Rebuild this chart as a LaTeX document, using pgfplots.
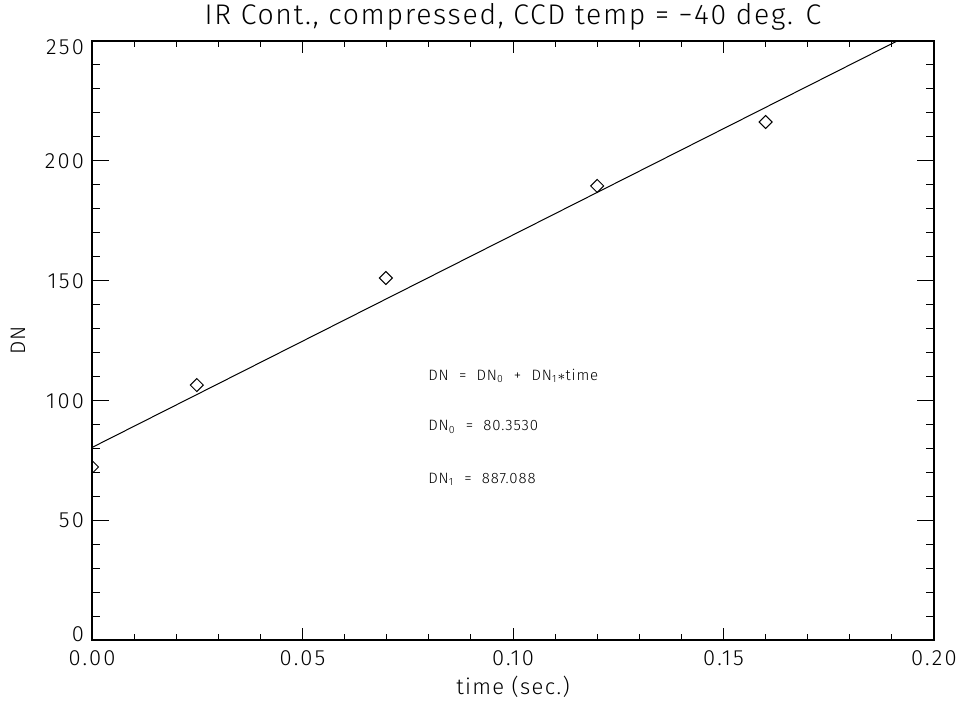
\documentclass[border=0pt]{standalone}
\usepackage{fontspec}
\setmainfont{Fira Sans Light}
\usepackage{pgfplots}
\pgfplotsset{compat=1.18}
\begin{document}
\begin{tikzpicture}
\useasboundingbox (-46pt,-33.5pt) rectangle (435pt,320pt);
\begin{axis}[
  at={(0,0)}, anchor=south west,
  scale only axis,
  width=421pt, height=299.5pt,
  xmin=0, xmax=0.2, ymin=0, ymax=250,
  xtick={0,0.05,0.1,0.15,0.2},
  ytick={0,50,100,150,200,250},
  yticklabels={\raisebox{-0.8pt}[0pt][0pt]{0}, \raisebox{-3.8pt}[0pt][0pt]{50}, \raisebox{-3.8pt}[0pt][0pt]{100}, \raisebox{-3.8pt}[0pt][0pt]{150}, \raisebox{-3.8pt}[0pt][0pt]{200}, \raisebox{-7pt}[0pt][0pt]{250}},
  minor x tick num=4,
  minor y tick num=4,
  major tick length=6pt,
  minor tick length=3pt,
  every major y tick/.append style={/pgfplots/major tick length=8.5pt},
  every minor y tick/.append style={/pgfplots/minor tick length=4pt},
  tick style={black, line width=0.5pt},
  axis line style={black, line width=0.6pt},
  clip marker paths=true,
  /pgf/number format/assume math mode=true,
  xticklabel style={/pgf/number format/fixed, /pgf/number format/fixed zerofill, /pgf/number format/precision=2, yshift=-2pt},
  yticklabel style={xshift=-0.5pt},
  ticklabel style={font=\fontsize{11}{12}\selectfont\addfontfeature{LetterSpace=10}},
  xlabel={time (sec.)},
  ylabel={DN},
  xlabel style={font=\fontsize{11}{12}\selectfont\addfontfeature{LetterSpace=6}, yshift=2pt},
  ylabel style={font=\fontsize{10.5}{12}\selectfont\addfontfeature{LetterSpace=6}, yshift=3pt},
  title={IR Cont., compressed, CCD temp = −40 deg. C},
  title style={font=\fontsize{14.2}{16}\selectfont\addfontfeature{LetterSpace=6}, yshift=-4pt},
]
\addplot[black, line width=0.5pt] coordinates {(0,80.353) (0.19124,250)};
\addplot[only marks, mark=square, mark size=2.3pt, mark options={rotate=45, black, line width=0.5pt}] coordinates {
(0.0,72.2) (0.0249,106.4) (0.0698,151.1) (0.120,189.5) (0.160,216.2)};
\node[anchor=west, font=\fontsize{7.5}{8}\selectfont\addfontfeature{LetterSpace=6}, inner sep=0pt] at (axis cs:0.0798,110.2) {DN \ = \ DN\textsubscript{0} \ + \ DN\textsubscript{1}$\ast$time};
\node[anchor=west, font=\fontsize{7.5}{8}\selectfont\addfontfeature{LetterSpace=6}, inner sep=0pt] at (axis cs:0.0798,88.9) {DN\textsubscript{0} \ = \ 80.3530};
\node[anchor=west, font=\fontsize{7.5}{8}\selectfont\addfontfeature{LetterSpace=6}, inner sep=0pt] at (axis cs:0.0798,67.2) {DN\textsubscript{1} \ = \ 887.088};
\end{axis}
\end{tikzpicture}
\end{document}
